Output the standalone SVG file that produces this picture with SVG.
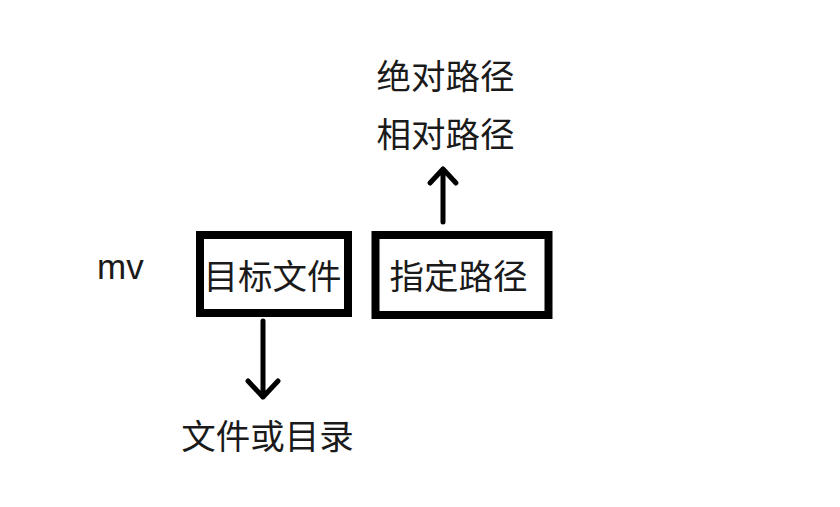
<svg xmlns="http://www.w3.org/2000/svg" width="840" height="507" viewBox="0 0 840 507">
<style>
.box{fill:#fff;stroke:#000;stroke-width:8}
.t{font-family:"Noto Sans CJK SC","Microsoft YaHei",sans-serif;font-size:34.5px;fill:#1a1a1a;text-anchor:middle}
.c{fill:none;stroke:#000;stroke-width:5;stroke-linecap:round;stroke-linejoin:round}
</style>
<rect width="840" height="507" fill="#fff"/>
<g id="mv"><text x="97" y="279" style="font-family:'Liberation Sans',sans-serif;font-size:35px;fill:#1a1a1a">mv</text></g>
<g id="target"><rect class="box" x="200" y="235" width="148" height="78"/><text class="t" x="272.5" y="289">目标文件</text></g>
<g id="path"><rect class="box" x="375.5" y="235" width="173" height="80"/><text class="t" x="458.5" y="289">指定路径</text></g>
<g id="abs"><text class="t" x="445.5" y="89">绝对路径</text></g>
<g id="rel"><text class="t" x="445.5" y="147">相对路径</text></g>
<g id="fileordir"><text class="t" x="267.5" y="449">文件或目录</text></g>
<g id="connectors">
<path class="c" d="M263 321V397M248 381L263 397L278 381"/>
<path class="c" d="M443 222V169M430 183L443 169L456 183"/>
</g>
</svg>
